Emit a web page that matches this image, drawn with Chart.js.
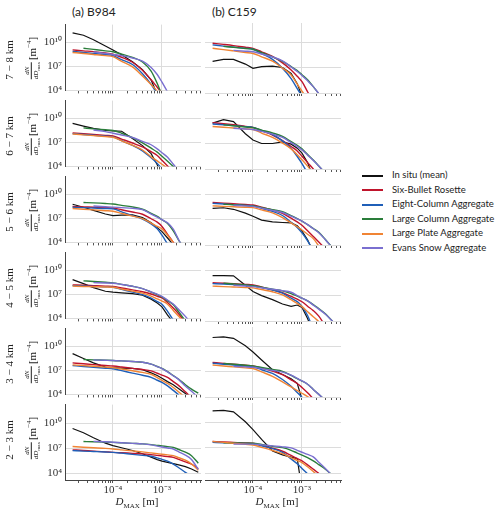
<!DOCTYPE html>
<html>
<head>
<meta charset="utf-8">
<script src="https://cdn.jsdelivr.net/npm/chart.js@4.4.0/dist/chart.umd.min.js"></script>
<style>
  body { margin: 0; width: 500px; height: 512px; background: #fff; position: relative; overflow: hidden; font-family: Lato, 'DejaVu Sans', sans-serif; color: #222; }
  canvas { position: absolute; }
  .title { position: absolute; font-size: 12px; top: 4px; }
  .rot { position: absolute; transform: translate(-50%, -50%) rotate(-90deg); white-space: nowrap; font-family: 'Liberation Serif', serif; font-size: 11px; }
  .frac { display: inline-flex; flex-direction: column; vertical-align: middle; font-size: 7px; line-height: 8px; text-align: center; margin-right: 2px; }
  .frac .num { border-bottom: 0.7px solid #222; }
  .frac sub { font-size: 5px; }
  .xlab { position: absolute; top: 495px; transform: translateX(-50%); font-family: 'Liberation Serif', serif; font-size: 11px; white-space: nowrap; }
  .xlab sub { font-size: 7px; }
  #legend { position: absolute; left: 362px; top: 168px; font-size: 9.5px; }
  #legend div { height: 14.5px; line-height: 14.5px; white-space: nowrap; }
  #legend span { display: inline-block; width: 21px; height: 2px; vertical-align: middle; margin-right: 9px; }
</style>
</head>
<body>
<div id="legend"></div>
<script>
const D_MAX = [1.5e-5, 2.5e-5, 4e-5, 7e-5, 1e-4, 1.5e-4, 2.5e-4, 4e-4, 6e-4, 8e-4, 1e-3, 1.3e-3, 1.7e-3, 2.2e-3, 3e-3, 4e-3, 5.5e-3];
const HEIGHTS = ['7 − 8 km', '6 − 7 km', '5 − 6 km', '4 − 5 km', '3 − 4 km', '2 − 3 km'];
const CASES = ['(a) B984', '(b) C159'];
const SERIES = ['In situ (mean)', 'Six-Bullet Rosette', 'Eight-Column Aggregate', 'Large Column Aggregate', 'Large Plate Aggregate', 'Evans Snow Aggregate'];
const COLORS = ['#111111', '#c0142c', '#1f5fb8', '#2a7d3a', '#f08434', '#7a6fd0'];
const Y_TICKS = [1e4, 1e7, 1e10];
const Y_LABELS = ['10⁴', '10⁷', '10¹⁰'];
const X_TICKS = [1e-4, 1e-3];
const X_LABELS = ['10⁻⁴', '10⁻³'];
const X_MINOR = [2e-5, 3e-5, 4e-5, 5e-5, 6e-5, 7e-5, 8e-5, 9e-5, 2e-4, 3e-4, 4e-4, 5e-4, 6e-4, 7e-4, 8e-4, 9e-4, 2e-3, 3e-3, 4e-3, 5e-3, 6e-3];

// log10 of dN/dDmax [m^-4] at each D_MAX, one row per height band (7-8 km first)
const inSituB984 = [
  [11.2, 10.9, 10.35, 9.55, 9.06, 8.45, 7.6, 6.6, 5.3, 3.5],
  [9.38, 9.05, 8.75, 8.5, 8.45, 8.4, 7.5, 6.6, 5.6, 4.2, 2.8],
  [8.77, 8.4, 8.0, 7.55, 7.35, 7.42, 7.45, 7.1, 6.45, 5.85, 5.35, 4.55, 3.7],
  [8.86, 8.35, 7.85, 7.4, 7.28, 7.2, 7.1, 6.9, 6.41, 5.92, 5.45, 4.4, 3.5],
  [9.1, 8.5, 7.95, 7.42, 7.35, 7.3, 7.25, 7.1, 6.7, 6.36, 6.02, 5.6, 5.2, 4.7, 4.1, 3.5],
  [9.36, 8.85, 8.25, 7.6, 7.3, 7.05, 6.72, 6.33, 5.93, 5.63, 5.45, 5.3, 5.15, 4.99, 4.79, 4.5, 4.1]
];
const inSituC159 = [
  [7.72, 7.95, 7.95, 7.4, 6.9, 7.1, 7.17, 7.0, 6.3, 5.1, 3.6],
  [9.4, 9.8, 9.58, 8.15, 7.42, 7.0, 7.0, 7.18, 6.92, 6.45, 5.86, 4.75, 3.0],
  [8.3, 8.38, 8.2, 7.75, 7.38, 6.93, 6.73, 6.65, 6.6, 6.28, 5.62, 4.6, 3.2],
  [9.35, 9.33, 9.31, 8.2, 7.47, 6.99, 6.51, 6.0, 5.73, 5.88, 5.6, 4.3, 2.5],
  [11.0, 11.08, 10.9, 10.02, 9.3, 8.36, 7.2, 6.65, 6.14, 5.6, 3.7],
  [11.3, 11.36, 11.2, 10.03, 9.1, 7.95, 6.6, 6.13, 5.87, 5.7, 2.0]
];
const rosetteB984 = [
  [9.07, 8.95, 8.85, 8.68, 8.52, 8.15, 7.52, 6.52, 5.33, 4.4, 3.7],
  [8.2, 8.1, 8.0, 7.88, 7.8, 7.42, 6.93, 6.43, 5.84, 5.37, 4.77, 4.05, 3.3],
  [8.5, 8.45, 8.4, 8.35, 8.3, 8.08, 7.8, 7.52, 6.96, 6.53, 6.0, 5.0, 4.0, 3.0],
  [8.2, 8.15, 8.1, 8.04, 8.0, 7.81, 7.57, 7.34, 7.05, 6.77, 6.56, 5.99, 5.3, 4.56, 3.5],
  [7.94, 7.83, 7.73, 7.62, 7.55, 7.43, 7.26, 7.11, 6.95, 6.65, 6.42, 6.12, 5.6, 5.1, 4.32, 3.6],
  [6.8, 6.72, 6.65, 6.56, 6.5, 6.45, 6.38, 6.32, 6.23, 6.14, 6.07, 5.99, 5.9, 5.65, 5.36, 5.08, 4.55]
];
const rosetteC159 = [
  [9.86, 9.72, 9.58, 9.38, 9.25, 8.85, 8.3, 7.54, 6.71, 5.96, 5.33, 4.15, 3.0],
  [9.45, 9.33, 9.2, 9.02, 8.9, 8.5, 8.0, 7.34, 6.65, 6.12, 5.5, 4.75, 4.0, 3.2],
  [9.0, 8.93, 8.85, 8.76, 8.7, 8.45, 8.12, 7.73, 7.15, 6.73, 6.32, 5.67, 5.0, 4.35, 3.55],
  [8.5, 8.44, 8.38, 8.3, 8.25, 8.0, 7.67, 7.33, 6.89, 6.58, 6.26, 5.74, 5.22, 4.57, 3.4],
  [8.07, 7.96, 7.86, 7.73, 7.65, 7.39, 7.04, 6.62, 6.02, 5.59, 5.12, 4.49, 3.8],
  [7.7, 7.65, 7.6, 7.54, 7.5, 7.25, 6.92, 6.56, 6.06, 5.7, 5.43, 4.96, 4.45, 3.95]
];
const eightColB984 = [
  [8.87, 8.75, 8.63, 8.48, 8.36, 7.85, 7.24, 6.09, 4.76, 3.55],
  [8.1, 8.0, 7.9, 7.78, 7.7, 7.22, 6.62, 5.95, 5.09, 4.38, 3.7],
  [8.4, 8.35, 8.3, 8.24, 8.2, 7.83, 7.36, 6.93, 6.32, 5.7, 4.9, 3.8],
  [8.1, 8.05, 8.0, 7.95, 7.9, 7.63, 7.29, 6.98, 6.54, 6.11, 5.78, 4.88, 3.8],
  [7.6, 7.5, 7.4, 7.28, 7.2, 6.97, 6.67, 6.4, 6.13, 5.77, 5.5, 5.07, 4.5, 3.95],
  [6.7, 6.65, 6.6, 6.54, 6.5, 6.4, 6.26, 6.14, 6.03, 5.84, 5.66, 5.44, 5.09, 4.65, 4.1, 3.6]
];
const eightColC159 = [
  [9.66, 9.52, 9.4, 9.25, 9.15, 8.64, 7.96, 6.92, 5.69, 4.51, 3.6],
  [9.3, 9.2, 9.1, 8.98, 8.9, 8.53, 8.04, 7.31, 6.43, 5.47, 4.64, 3.5],
  [8.9, 8.83, 8.75, 8.66, 8.6, 8.32, 7.96, 7.47, 6.67, 6.07, 5.42, 4.48, 3.3],
  [8.4, 8.34, 8.28, 8.2, 8.15, 7.93, 7.65, 7.28, 6.68, 6.28, 5.71, 4.64, 3.0],
  [7.97, 7.86, 7.75, 7.63, 7.55, 7.21, 6.77, 6.06, 5.26, 4.53, 3.96, 3.3],
  [7.6, 7.56, 7.53, 7.48, 7.45, 7.2, 6.87, 6.43, 5.66, 5.08, 4.54, 3.9]
];
const largeColB984 = [
  [null, 9.28, 9.13, 8.95, 8.83, 8.54, 8.13, 7.55, 6.4, 4.86, 3.4],
  [null, 8.82, 8.7, 8.58, 8.5, 8.15, 7.6, 6.95, 6.28, 5.78, 5.26, 4.64, 4.0, 3.4],
  [null, 9.0, 8.95, 8.87, 8.8, 8.64, 8.44, 8.15, 7.64, 7.25, 6.84, 6.36, 5.44, 4.26, 3.0],
  [null, 8.7, 8.62, 8.52, 8.45, 8.26, 8.02, 7.73, 7.3, 6.99, 6.68, 6.2, 5.7, 4.82, 3.7],
  [null, 8.36, 8.32, 8.28, 8.25, 8.19, 8.11, 8.03, 7.79, 7.49, 7.26, 6.84, 6.36, 5.9, 5.2, 4.65, 4.15],
  [null, 7.8, 7.77, 7.73, 7.7, 7.65, 7.58, 7.52, 7.43, 7.34, 7.27, 7.18, 7.1, 6.84, 6.52, 6.1, 5.2]
];
const largeColC159 = [
  [null, 9.48, 9.38, 9.24, 9.15, 8.76, 8.25, 7.72, 7.1, 6.64, 6.14, 5.55, 4.75, 3.92, 3.0],
  [null, 9.2, 9.08, 8.94, 8.85, 8.58, 8.24, 7.83, 7.22, 6.79, 6.37, 5.7, 5.05, 4.36, 3.5],
  [null, 8.8, 8.73, 8.65, 8.6, 8.4, 8.15, 7.92, 7.45, 7.1, 6.82, 6.4, 5.94, 5.5, 4.65, 3.8],
  [null, 8.45, 8.35, 8.23, 8.15, 7.97, 7.74, 7.54, 7.23, 6.92, 6.69, 6.38, 5.92, 5.47, 4.85, 4.1, 3.2],
  [null, 7.95, 7.85, 7.73, 7.65, 7.47, 7.23, 7.02, 6.53, 6.16, 5.88, 5.5, 4.89, 4.31, 3.6],
  [null, 7.55, 7.53, 7.51, 7.5, 7.35, 7.15, 6.98, 6.67, 6.35, 6.11, 5.82, 5.43, 4.99, 4.45, 3.8]
];
const plateB984 = [
  [8.75, 8.62, 8.5, 8.35, 8.22, 7.64, 6.95, 5.8, 4.73, 3.92],
  [8.05, 7.95, 7.85, 7.73, 7.65, 7.2, 6.65, 6.05, 5.2, 4.7, 4.27, 3.77],
  [8.25, 8.15, 8.07, 7.97, 7.9, 7.63, 7.29, 6.98, 6.42, 6.0, 5.69, 4.9, 4.0, 3.1],
  [8.05, 8.0, 7.97, 7.93, 7.9, 7.68, 7.41, 7.16, 6.8, 6.44, 6.17, 5.78, 5.0, 4.26, 3.3],
  [7.7, 7.6, 7.52, 7.42, 7.35, 7.18, 6.96, 6.75, 6.52, 6.09, 5.76, 5.37, 4.87, 4.3, 3.6],
  [7.2, 7.12, 7.05, 6.97, 6.9, 6.8, 6.67, 6.55, 6.43, 6.34, 6.27, 6.19, 6.1, 5.85, 5.55, 5.1, 4.35]
];
const plateC159 = [
  [9.26, 9.1, 8.95, 8.77, 8.65, 8.26, 7.74, 6.93, 6.11, 5.04, 4.22, 3.3],
  [9.0, 8.91, 8.82, 8.72, 8.65, 8.23, 7.71, 7.05, 6.37, 5.69, 5.08, 4.34, 3.5],
  [8.6, 8.55, 8.5, 8.44, 8.4, 8.13, 7.78, 7.23, 6.6, 6.15, 5.77, 5.27, 4.75, 3.9],
  [8.1, 8.05, 8.0, 7.94, 7.9, 7.7, 7.44, 7.08, 6.5, 6.08, 5.69, 5.1, 4.5, 3.95],
  [7.76, 7.65, 7.55, 7.43, 7.35, 6.95, 6.44, 5.77, 5.18, 4.76, 4.44, 4.05, 3.6],
  [7.7, 7.6, 7.5, 7.38, 7.3, 7.02, 6.65, 6.27, 5.8, 5.47, 5.22, 4.73, 4.17, 3.6]
];
const evansB984 = [
  [null, null, 8.8, 8.62, 8.5, 8.35, 8.05, 7.66, 6.88, 5.99, 5.03, 3.8],
  [null, null, 8.55, 8.35, 8.15, 7.93, 7.62, 7.14, 6.71, 6.19, 5.71, 5.14, 4.27, 3.4],
  [null, null, 8.55, 8.47, 8.42, 8.35, 8.27, 8.1, 7.55, 7.17, 6.85, 6.45, 5.65, 4.3, 3.0],
  [null, null, 8.48, 8.43, 8.4, 8.25, 8.02, 7.73, 7.33, 7.03, 6.75, 6.3, 5.8, 5.1, 4.25, 3.3],
  [null, null, 8.3, 8.27, 8.25, 8.2, 8.12, 8.03, 7.78, 7.48, 7.24, 6.82, 6.33, 5.85, 5.05, 4.4, 3.6],
  [null, null, 7.82, 7.77, 7.72, 7.66, 7.58, 7.52, 7.4, 7.25, 7.14, 7.02, 6.9, 6.57, 6.17, 5.65, 4.45]
];
const evansC159 = [
  [null, null, 9.02, 8.92, 8.85, 8.59, 8.24, 7.79, 7.06, 6.53, 6.07, 5.43, 4.75, 3.93, 3.0],
  [null, null, 8.8, 8.7, 8.65, 8.42, 8.11, 7.72, 7.1, 6.65, 6.25, 5.63, 5.0, 4.35, 3.5],
  [null, null, 8.67, 8.6, 8.55, 8.34, 8.07, 7.82, 7.39, 7.07, 6.82, 6.39, 5.91, 5.45, 4.62, 3.8],
  [null, null, 8.21, 8.11, 8.05, 7.91, 7.73, 7.57, 7.38, 7.0, 6.7, 6.37, 5.87, 5.39, 4.8, 4.1, 3.2],
  [null, null, 7.62, 7.55, 7.5, 7.34, 7.13, 6.93, 6.57, 6.19, 5.9, 5.5, 4.89, 4.31, 3.6],
  [null, null, 7.4, 7.4, 7.4, 7.31, 7.19, 7.08, 6.95, 6.66, 6.44, 6.18, 5.9, 5.27, 4.52, 3.8]
];

const CASE_SERIES = [
  [inSituB984, rosetteB984, eightColB984, largeColB984, plateB984, evansB984],
  [inSituC159, rosetteC159, eightColC159, largeColC159, plateC159, evansC159]
];

// panel geometry
const COL_LEFT = [65, 205];
const PLOT_W = 136, PLOT_H = 70;
const ROW_TOP = 23, ROW_STEP = 76;
const X_MIN = 1.05e-5, X_MAX = 6.25e-3;
const Y_MAX = 1.72e12;
const PAD_T = 8, PAD_R = 4;
const GRID = '#dcdcdc';

function addText(cls, html, style) {
  const el = document.createElement('div');
  el.className = cls;
  el.innerHTML = html;
  Object.assign(el.style, style);
  document.body.appendChild(el);
}

function makePanel(col, row) {
  const last = row === HEIGHTS.length - 1;
  const yw = col === 0 ? 65 : 0;
  const extra = last ? 7 : 0;       // bottom axis sits a bit below 10^4
  const axisH = last ? 24 : 7;
  const cv = document.createElement('canvas');
  cv.width = yw + PLOT_W + PAD_R;
  cv.height = PAD_T + PLOT_H + extra + axisH;
  cv.style.left = (COL_LEFT[col] - yw) + 'px';
  cv.style.top = (ROW_TOP + row * ROW_STEP - PAD_T) + 'px';
  document.body.appendChild(cv);

  const series = CASE_SERIES[col];
  new Chart(cv, {
    type: 'line',
    data: {
      datasets: SERIES.map((name, k) => ({
        label: name,
        data: D_MAX.map((d, i) => {
          const v = series[k][row][i];
          return { x: d, y: v == null ? null : Math.pow(10, v) };
        }),
        borderColor: COLORS[k],
        borderWidth: k === 0 ? 1.2 : 1.4,
        pointRadius: 0,
        cubicInterpolationMode: k === 0 ? 'default' : 'monotone',
        tension: 0,
        order: SERIES.length - k,
        clip: { left: 0, top: 0, right: 0, bottom: -extra }
      }))
    },
    options: {
      responsive: false,
      animation: false,
      devicePixelRatio: 1,
      events: [],
      layout: { padding: { top: PAD_T, right: PAD_R, left: 0, bottom: 0 } },
      plugins: { legend: { display: false }, tooltip: { enabled: false } },
      scales: {
        x: {
          type: 'logarithmic',
          min: X_MIN, max: X_MAX,
          afterBuildTicks: s => { s.ticks = X_MINOR.concat(X_TICKS).sort((a, b) => a - b).map(v => ({ value: v })); },
          afterFit: s => { s.height = axisH; },
          ticks: {
            display: last, autoSkip: false, maxRotation: 0, padding: 1,
            callback: v => X_TICKS.includes(v) ? X_LABELS[X_TICKS.indexOf(v)] : '',
            font: { family: 'Liberation Serif', size: 11 }, color: '#333'
          },
          grid: {
            color: c => c.tick && X_TICKS.includes(c.tick.value) ? GRID : 'rgba(0,0,0,0)',
            tickColor: '#555', tickLength: 3
          },
          border: { display: last, color: '#444' }
        },
        y: {
          type: 'logarithmic',
          min: last ? Math.pow(10, 4 - extra / 8.5) : 1e4, max: Y_MAX,
          afterBuildTicks: s => { s.ticks = Y_TICKS.map(v => ({ value: v })); },
          afterFit: s => { s.width = yw; },
          ticks: {
            display: col === 0, padding: 3,
            callback: (v, i) => Y_LABELS[i],
            font: { family: 'Liberation Serif', size: 11 }, color: '#333'
          },
          grid: { color: GRID, drawTicks: false },
          border: { display: col === 0, color: '#444' }
        }
      }
    }
  });
}

CASES.forEach((name, col) => {
  addText('title', name, { left: (COL_LEFT[col] + 7) + 'px' });
  HEIGHTS.forEach((h, row) => makePanel(col, row));
  addText('xlab', '<i>D</i><sub>MAX</sub> [m]', { left: (COL_LEFT[col] + 72) + 'px' });
});

HEIGHTS.forEach((h, row) => {
  const cy = ROW_TOP + row * ROW_STEP + 37;
  addText('rot', h, { left: '9px', top: cy + 'px' });
  addText('rot', '<span class="frac"><span class="num"><i>dN</i></span><span><i>dD</i><sub>max</sub></span></span>[m<sup style="font-size:7px">−4</sup>]',
    { left: '33px', top: (cy - 2) + 'px' });
});

document.getElementById('legend').innerHTML = SERIES.map((s, k) =>
  `<div><span style="background:${COLORS[k]}"></span>${s}</div>`).join('');
</script>
</body>
</html>
